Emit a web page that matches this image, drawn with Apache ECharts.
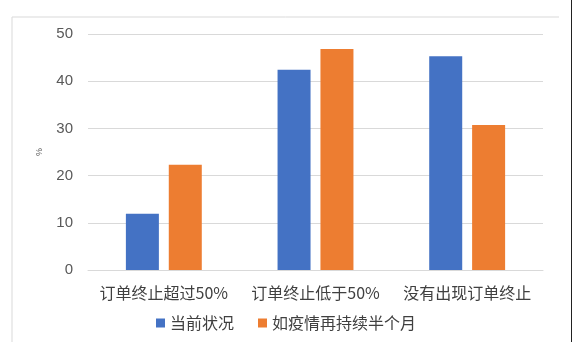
<!DOCTYPE html>
<html><head><meta charset="utf-8">
<script src="https://cdn.jsdelivr.net/npm/echarts@6/dist/echarts.min.js"></script>
<style>html,body{margin:0;padding:0;background:#fff}#c{width:572px;height:342px}</style>
</head><body><div id="c"></div>
<script>
const categories = ['订单终止超过50%', '订单终止低于50%', '没有出现订单终止'];
const seriesNames = ['当前状况', '如疫情再持续半个月'];
const currentValues = [11.9, 42.4, 45.3];
const prolongedValues = [22.3, 46.8, 30.7];
const yTicks = [0, 10, 20, 30, 40, 50];

const font = '"Noto Sans CJK SC", "Microsoft YaHei", sans-serif';
const chart = echarts.init(document.getElementById('c'));
chart.setOption({
  animation: false,
  backgroundColor: '#fff',
  graphic: [
    { type: 'line', shape: { x1: 12, y1: 17, x2: 559, y2: 17 }, style: { stroke: '#d9d9d9', lineWidth: 1 } },
    { type: 'line', shape: { x1: 12, y1: 17, x2: 12, y2: 342 }, style: { stroke: '#d9d9d9', lineWidth: 1 } },
    { type: 'line', shape: { x1: 571.5, y1: 0, x2: 571.5, y2: 342 }, style: { stroke: '#222', lineWidth: 1 } }
  ],
  grid: { left: 88, right: 29, top: 34, bottom: 72, containLabel: false },
  legend: {
    data: seriesNames, bottom: 6, left: 'center',
    itemWidth: 9, itemHeight: 9, itemGap: 24, icon: 'rect',
    textStyle: { fontFamily: font, fontSize: 16, color: '#404040' }
  },
  xAxis: {
    type: 'category', data: categories,
    axisLine: { lineStyle: { color: '#d9d9d9' } },
    axisTick: { show: false },
    axisLabel: { fontFamily: font, fontSize: 16, color: '#404040', margin: 15, interval: 0 }
  },
  yAxis: {
    type: 'value', min: yTicks[0], max: yTicks[yTicks.length - 1], interval: 10,
    name: '%', nameLocation: 'middle', nameGap: 44, nameRotate: 90,
    nameTextStyle: { fontSize: 9, color: '#595959' },
    axisLine: { show: false }, axisTick: { show: false },
    axisLabel: { fontFamily: 'Liberation Sans, Arial, sans-serif', fontSize: 15, color: '#595959', margin: 15 },
    splitLine: { lineStyle: { color: '#d9d9d9' } }
  },
  series: [
    { name: seriesNames[0], type: 'bar', data: currentValues, barWidth: 33, barGap: '30%', itemStyle: { color: '#4472c4' } },
    { name: seriesNames[1], type: 'bar', data: prolongedValues, barWidth: 33, itemStyle: { color: '#ed7d31' } }
  ]
});
</script></body></html>
